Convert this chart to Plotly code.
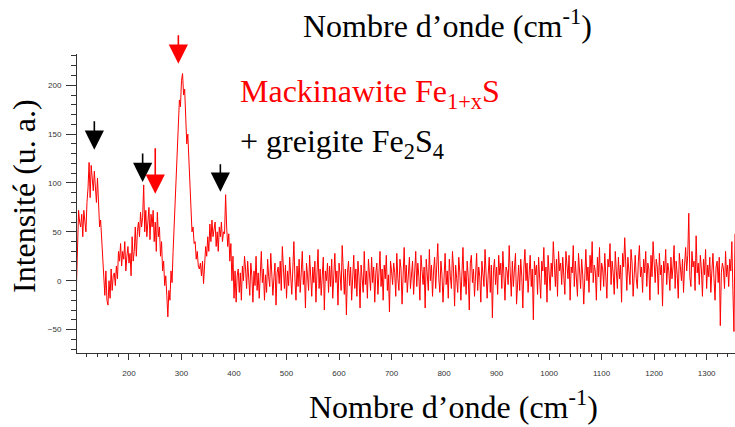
import plotly.graph_objects as go

# Raman spectrum, wavenumber sampled every 2 cm-1 starting at 100 cm-1
wn_start = 100
wn_step = 2

# 100 - 420 cm-1 (peaks region)
intensity_peaks = [
    -5, 35, 72, 60, 55, 68, 45, 72, 60, 50,
    80, 95, 121, 85, 118, 100, 92, 112, 95, 80,
    105, 70, 55, 62, 40, 20, 5, -15, 10, -20,
    -25, 0, -18, 12, -10, 5, 8, -5, 15, 2,
    30, 20, 38, 15, 30, 22, 40, 10, 25, 35,
    18, 28, 5, 45, 20, 30, 55, 25, 50, 60,
    45, 70, 55, 65, 98, 50, 72, 45, 60, 75,
    42, 68, 55, 72, 40, 60, 30, 70, 45, 55,
    25, 40, 10, 20, -5, 5, -15, -37, -10, -20,
    10, -2, 30, 55, 85, 120, 140, 165, 185, 178,
    205, 212, 190, 196, 165, 140, 150, 120, 90, 75,
    50, 55, 38, 40, 22, 30, 15, 12, 18, 5,
    20, -3, 15, 35, 25, 45, 30, 58, 40, 62,
    45, 55, 60, 35, 50, 30, 55, 45, 60, 40,
    50, 48, 88, 55, 35, 48, 20, 38, 0, 25,
    -18, 10, -22, 5, 12, -12, 8, -20, 15, 0,
    25,
]

# 422 - 1354 cm-1 (noisy baseline)
intensity_baseline = [
    12, -8, 20, 2, -15, 18, 5, -22, 10, -5, 25, -10, 8, -18, 15, 30, -2, 12, -20, 6,
    -12, 22, 4, -6, 28, 10, -15, 3, 18, -25, 8, 14, -3, 20, -10, 35, 5, -8, 16, -18,
    10, -5, 24, 0, -14, 12, 40, 2, -20, 15, -6, 22, -12, 8, 30, -4, 10, -28, 18, 5,
    -10, 26, 3, -16, 14, -2, 20, -22, 8, 32, -8, 12, -15, 6, 24, -30, 10, 0, 18, -12,
    15, -6, 22, -18, 4, 28, -2, 10, -25, 18, 6, -10, 36, 2, -14, 12, -35, 8, 20, -5,
    14, -20, 6, 26, -8, 12, -16, 20, 4, -28, 16, 2, -12, 30, -4, 10, -18, 22, 8, -10,
    24, -2, 14, -22, 8, 18, -14, 4, 30, -6, 12, -20, 16, 2, 26, -10, 6, -32, 20, 10,
    -4, 18, 8, -16, 28, 2, -10, 22, 12, -24, 6, 34, -2, 16, -12, 10, 24, -8, 4, 20,
    -14, 12, 30, -6, 18, 4, -20, 26, 8, -4, 14, -28, 22, 6, -10, 32, 0, 16, -16, 10,
    24, -8, 12, 38, 2, -12, 20, 6, -22, 14, 28, -4, 10, -18, 22, 4, -8, 30, 12, -26,
    16, 2, -12, 24, 8, -20, 14, 34, -6, 10, -14, 20, 4, -30, 18, 26, -2, 12, -16, 8,
    28, -10, 14, 4, -22, 20, 8, -6, 32, 12, -18, 6, 24, -12, 16, -38, 10, 22, -4, 14,
    -14, 26, 6, 18, -8, 30, 2, -20, 14, 10, -4, 36, 8, -16, 20, -6, 12, 28, -24, 6,
    16, -10, 22, 4, -28, 14, 32, 0, 18, -12, 8, 26, -6, 12, -40, 20, 6, 16, -14, 24,
    2, -18, 20, 10, 34, -4, 14, -22, 26, 8, -10, 18, 4, 40, 12, -6, 22, -16, 30, 10,
    18, -4, 24, 8, -14, 30, 12, 2, 26, -20, 14, 8, 36, -6, 20, 4, -16, 28, 10, -8,
    22, 6, -24, 18, 32, 0, 14, -12, 26, 8, 40, -2, 16, 10, -20, 24, 4, 34, -10, 18,
    12, -6, 28, 4, -18, 22, 14, 38, -4, 20, 8, -14, 30, 10, -8, 24, 2, 16, -22, 28,
    14, 44, 6, -10, 24, 12, -4, 32, 18, -16, 10, 26, 2, -8, 20, 36, 4, 14, -12, 22,
    8, 30, -6, 18, 12, -20, 26, 4, 40, 10, -2, 22, 14, -14, 28, 6, 16, -26, 20, 8,
    32, -4, 18, 10, -10, 24, 2, 14, 36, -8, 20, 6, -18, 28, 12, 0, 22, -12, 16, 34,
    10, 26, 69, 4, -6, 30, 14, 20, -10, 46, 8, 18, -4, 26, 12, -16, 22, 6, 32, -8,
    16, 4, 24, -12, 10, 28, 2, -20, 14, 20, -2, 24, -46, 8, 18, 12, -8, 30, 4, 16,
    -6, 22, 10, 40, -10, -52, 48,
]

intensity = intensity_peaks + intensity_baseline

# Peak markers (arrows)
arrow_x = [134, 226, 250, 294, 374]
arrow_y = [134, 101, 89, 222, 91]
arrow_colors = ["black", "black", "red", "red", "black"]
arrow_lengths = [30, 30, 47, 30, 29]

x_range = [101, 1354]
y_range = [-74, 232]
x_ticks = [200, 300, 400, 500, 600, 700, 800, 900, 1000, 1100, 1200, 1300]
y_ticks = [-50, 0, 50, 100, 150, 200]

title_text = "Nombre d\u2019onde (cm<sup>-1</sup>)"
y_title = "Intensit\u00e9 (u. a.)"
label1 = "Mackinawite Fe<sub>1+x</sub>S"
label2 = "+ greigite Fe<sub>2</sub>S<sub>4</sub>"

W, H = 735, 427
L, R, T, B = 77, 0, 54, 74
pw, ph = W - L - R, H - T - B


def px(xp):
    return (xp - L) / pw


def py(yp):
    return (H - B - yp) / ph


fig = go.Figure()
fig.add_trace(go.Scatter(
    x0=wn_start, dx=wn_step, y=intensity,
    mode="lines",
    line=dict(color="#ff0000", width=1),
    showlegend=False,
))

serif = "Liberation Serif, Times New Roman, serif"
annotations = []
for xa, ya, ca, la in zip(arrow_x, arrow_y, arrow_colors, arrow_lengths):
    annotations.append(dict(
        x=xa, y=ya, xref="x", yref="y", text="", showarrow=True,
        ax=0, ay=-la, arrowhead=2, arrowsize=2.4, arrowwidth=1.6,
        arrowcolor=ca,
    ))

annotations += [
    dict(x=px(447), y=py(24), xref="paper", yref="paper", text=title_text,
         showarrow=False, xanchor="center", yanchor="middle",
         font=dict(family=serif, size=32, color="black")),
    dict(x=px(453), y=py(405), xref="paper", yref="paper", text=title_text,
         showarrow=False, xanchor="center", yanchor="middle",
         font=dict(family=serif, size=32, color="black")),
    dict(x=px(24), y=py(196), xref="paper", yref="paper", text=y_title,
         showarrow=False, xanchor="center", yanchor="middle", textangle=-90,
         font=dict(family=serif, size=32, color="black")),
    dict(x=px(238), y=py(93), xref="paper", yref="paper", text=label1,
         showarrow=False, xanchor="left", yanchor="middle",
         font=dict(family=serif, size=32, color="#ff0000")),
    dict(x=px(238), y=py(143), xref="paper", yref="paper", text=label2,
         showarrow=False, xanchor="left", yanchor="middle",
         font=dict(family=serif, size=32, color="black")),
]

axis_common = dict(
    showgrid=False, zeroline=False, showline=True, linecolor="#333333",
    linewidth=1, ticks="outside", tickcolor="#333333", tickwidth=1,
    tickfont=dict(family="Liberation Sans, Arial, sans-serif", size=8, color="#333333"),
)

fig.update_layout(
    width=W, height=H,
    margin=dict(l=L, r=R, t=T, b=B),
    paper_bgcolor="white", plot_bgcolor="white",
    xaxis=dict(range=x_range, tickvals=x_ticks, ticklen=6,
               minor=dict(dtick=20, tick0=0, ticks="outside", ticklen=3, tickcolor="#333333"),
               ticklabelstandoff=6, **axis_common),
    yaxis=dict(range=y_range, tickvals=y_ticks, ticklen=10,
               minor=dict(dtick=10, tick0=0, ticks="outside", ticklen=5, tickcolor="#333333"),
               ticklabelstandoff=3, **axis_common),
    annotations=annotations,
)

fig.write_html("out.html", config={"displayModeBar": False},
               post_script="document.body.style.margin='0';")
